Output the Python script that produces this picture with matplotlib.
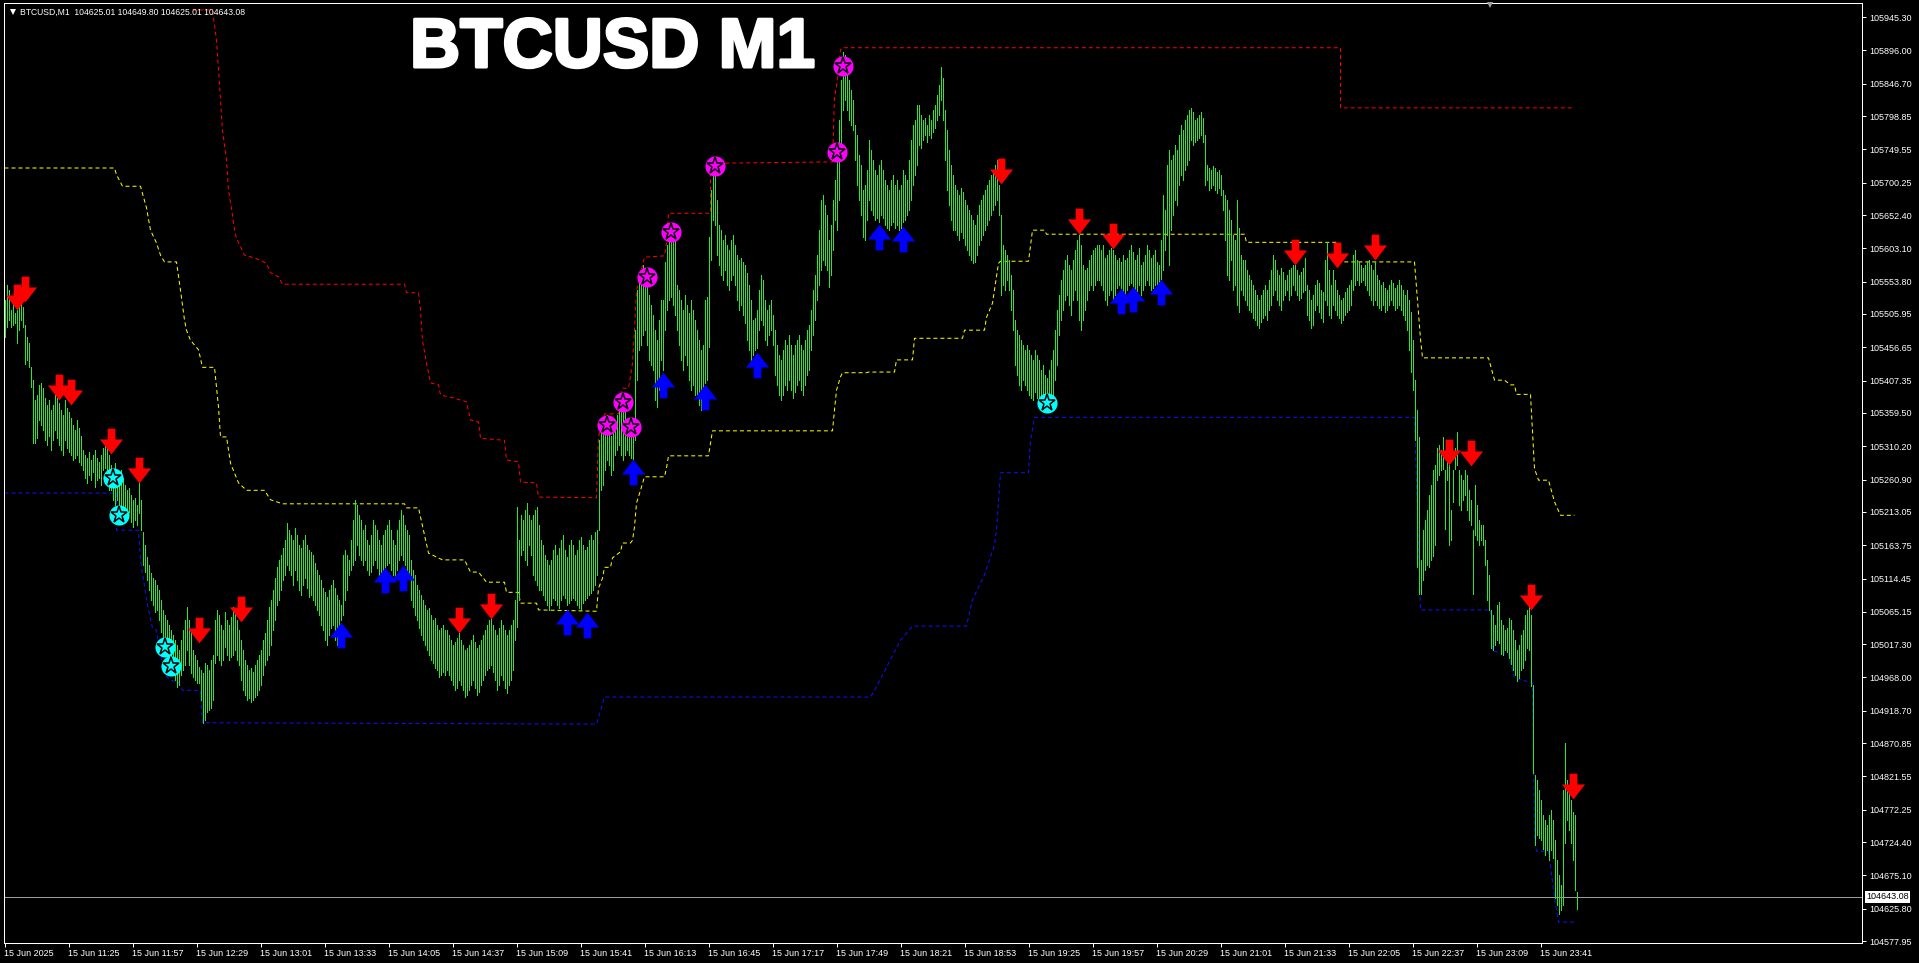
import numpy as np
import matplotlib
matplotlib.use("Agg")
import matplotlib.pyplot as plt
from matplotlib.path import Path
from matplotlib.lines import Line2D
import matplotlib.transforms as mtrans
import matplotlib.patheffects as pe

plt.rcParams['font.family'] = ['Liberation Sans', 'DejaVu Sans']

# ---------------- data ----------------
symbol = "BTCUSD,M1"
title = "BTCUSD M1"
last_open, last_high, last_low, last_close = 104625.01, 104649.80, 104625.01, 104643.08

xtick_labels = ["15 Jun 2025", "15 Jun 11:25", "15 Jun 11:57", "15 Jun 12:29", "15 Jun 13:01",
                "15 Jun 13:33", "15 Jun 14:05", "15 Jun 14:37", "15 Jun 15:09", "15 Jun 15:41",
                "15 Jun 16:13", "15 Jun 16:45", "15 Jun 17:17", "15 Jun 17:49", "15 Jun 18:21",
                "15 Jun 18:53", "15 Jun 19:25", "15 Jun 19:57", "15 Jun 20:29", "15 Jun 21:01",
                "15 Jun 21:33", "15 Jun 22:05", "15 Jun 22:37", "15 Jun 23:09", "15 Jun 23:41"]
xtick_bars = [0, 32, 64, 96, 128, 160, 192, 224, 256, 288, 320, 352, 384, 416, 448,
              480, 512, 544, 576, 608, 640, 672, 704, 736, 768]

ytick_values = [105945.30, 105896.00, 105846.70, 105798.85, 105749.55, 105700.25, 105652.40,
                105603.10, 105553.80, 105505.95, 105456.65, 105407.35, 105359.50, 105310.20,
                105260.90, 105213.05, 105163.75, 105114.45, 105065.15, 105017.30, 104968.00,
                104918.70, 104870.85, 104821.55, 104772.25, 104724.40, 104675.10, 104625.80,
                104577.95]

high = [
 105527,105549,105541,105512,105519,105507,105522,105541,105527,105516,105490,105472,105463,105427,105408,
 105379,105386,105401,105404,105396,105382,105371,105379,105364,105371,105386,105382,105374,105364,105357,105379,105367,105361,105352,105342,105334,105349,105337,105326,
 105305,105297,105293,105302,105290,105297,105305,105293,105287,105297,105308,105312,105315,105297,
 105283,105275,105285,105268,105260,105275,105263,105253,105246,105248,105238,105231,105234,105223,105257,105231,
 105183,105164,105146,105134,105122,105115,105112,105105,105097,105083,105068,
 105061,105053,105046,105038,105031,105023,105016,105009,105023,105038,105053,
 105072,105053,105038,105009,105001,104994,104984,104979,104975,104989,104987,104979,104994,105001,
 105053,105068,105061,105046,105038,105065,105053,105046,105057,105072,105065,105053,105038,105023,
 105009,104994,104987,104979,104982,104976,104987,104994,105001,105009,105023,
 105034,105053,105072,105083,105097,105115,105131,105142,105149,105160,105171,
 105197,105186,105179,105171,105189,105179,105164,105160,105171,105179,105164,105157,105154,105149,
 105137,105127,105120,105112,105100,105094,105087,105097,105105,105112,105100,105090,105083,105075,
 105149,105157,105149,105142,105171,105201,105231,
 105223,105208,105201,105186,105194,105171,105164,105179,105201,105194,105186,105171,105164,105179,105186,105194,105201,105186,105171,105164,105186,105201,105216,105208,105194,105186,105179,
 105142,105127,105120,105105,105097,105090,105083,105075,105068,105071,105061,105053,105056,105046,105038,105041,105046,105038,
 105038,105031,105023,105016,105020,105026,105034,105023,105016,105009,105012,105016,105023,105031,105020,105012,105016,105023,
 105031,105038,105046,105053,105056,105046,105038,105031,105041,105053,105046,105038,105031,105038,105046,105053,
 105083,105220,105171,
 105208,105201,105216,105226,105208,105201,105208,105216,105220,105194,
 105171,105164,105149,105142,105134,105142,105157,105164,105149,105160,105171,105179,105157,105146,105164,105171,105164,105149,105157,105171,105176,105164,105157,105161,105171,105179,105171,105183,105186,
 105319,
 105342,105334,105349,105357,105342,105326,105334,105349,
 105357,105371,105386,105379,105364,105349,105342,105334,
 105349,105482,105541,105564,105571,105578,105571,
 105549,105534,105519,105504,105482,105467,105497,105527,
 105527,105583,105608,105623,105638,105633,105615,
 105549,105541,105527,105512,105534,105519,105507,105527,105512,105497,
 105482,105467,105453,105460,105527,
 105531,105620,105689,105726,
 105719,105675,105638,105630,105615,105623,105608,105601,105615,105623,105608,105593,105586,105589,105583,105578,
 105567,105549,105527,105497,105500,105512,105541,105564,105556,105527,105512,105519,105527,105504,105482,
 105460,105445,105438,105453,105467,105460,105475,105460,105445,105460,105467,105475,105460,105453,105467,105482,
 105490,105512,105541,105564,105593,105630,105675,105682,105667,105652,105615,105638,105675,105704,
 105749,105793,105852,105894,
 105889,105874,105852,105837,105823,
 105786,105771,105741,105726,105689,105697,105719,
 105763,105749,105734,105719,105712,105726,105734,105719,105704,105697,105689,105704,105712,105697,105704,105689,105697,105719,105712,105704,
 105734,105763,105786,105793,105815,
 105815,105800,105793,105796,105786,105800,105793,105808,105815,105830,105845,105871,105855,
 105808,105778,105749,105726,105712,
 105697,105689,105682,105692,105686,105675,105667,105660,105652,105645,105638,105652,105667,105675,105682,105689,
 105697,105704,105712,105719,105726,105734,
 105697,105652,105608,105601,105593,105586,105564,105541,
 105497,105482,105475,105467,105460,105453,105460,105453,105445,105438,105453,105445,105438,
 105423,105430,105416,105411,105423,105438,105453,
 105482,105512,105534,105556,105571,105586,105593,
 105578,105571,105586,105601,105615,105623,105608,105578,105571,105574,105586,105593,105601,105604,105608,105608,
 105601,105608,105589,105593,105601,105604,105601,105593,105586,105589,105583,105593,105586,
 105589,105601,105608,105598,105586,105593,105604,105578,105583,105593,105608,105601,105589,105593,105601,105583,105578,
 105615,105682,105660,105726,105749,105734,
 105741,105756,105749,105771,105786,105778,105793,105800,105808,
 105811,105805,105793,105796,105800,105805,105796,
 105771,105726,105722,105719,105725,105722,105716,105719,105712,
 105689,105682,105675,105660,105645,
 105623,105615,105675,105633,105593,105586,
 105586,105571,105564,105556,105549,105541,105534,105527,105534,105541,105549,105541,105556,105571,
 105593,105586,105571,105564,105574,105568,105556,105564,105571,105574,105578,105578,105571,105564,105568,105574,105589,
 105549,105541,105527,105534,105549,105556,105552,105541,105538,
 105586,105612,105571,105549,
 105571,105556,105541,105534,105527,105530,105538,105544,105549,105556,
 105593,105601,105586,105583,105578,105574,105578,105583,105586,105578,105571,
 105583,105564,105556,105549,105553,105544,105541,105549,105556,105552,105544,105549,105556,105549,105541,105534,
 105541,105527,105509,
 105467,105408,105364,105324,
 105142,105186,105201,105216,105238,105253,105275,105282,
 105308,105312,105305,105324,105275,105312,105282,105216,105275,105308,105331,
 105275,105268,105260,105275,105268,105245,105231,105186,
 105253,105223,105201,105194,105194,105171,105142,105120,
 105068,105061,105046,105075,105080,105053,105046,105038,105041,105056,105053,105038,105023,105009,105016,105031,105038,105061,105068,
 105086,105061,104957,
 104824,104816,104801,104787,104764,104757,104750,104764,104772,104757,
 104727,104698,104676,104661,
 104801,104871,
 104816,104801,104787,104769,104764,
 104649.80]

low = [
 105472,105487,105497,105487,105490,105493,105463,105482,105497,105487,105432,105438,105427,105398,105315,
 105315,105322,105349,105342,105334,105319,105312,105326,105305,105319,105334,105322,105312,105305,105297,105319,105308,105302,105297,105290,105293,105297,105287,105283,
 105275,105263,105256,105268,105260,105272,105250,105260,105263,105253,105275,105278,105268,105246,
 105246,105231,105223,105231,105216,105220,105208,105204,105201,105213,105198,105191,105201,105194,105211,105186,
 105134,105124,105112,105097,105083,105075,105065,105068,105053,105035,105023,
 105009,104994,104987,104979,104972,104964,104954,104957,104972,104979,104987,
 105009,104987,104975,104969,104964,104960,104960,104935,104901,104905,104917,104920,104923,104935,
 104989,105001,104994,104987,104994,105013,105001,104994,104998,105001,105009,104994,104987,104964,
 104949,104942,104935,104938,104932,104935,104939,104942,104949,104957,104972,
 104987,104994,105001,105016,105038,105053,105075,105083,105097,105112,105120,
 105134,105127,105120,105105,105127,105112,105097,105090,105105,105115,105100,105087,105090,105083,
 105075,105068,105061,105046,105038,105023,105016,105031,105041,105046,105023,105016,105038,105053,
 105061,105083,105097,105120,105127,105134,105142,
 105164,105149,105142,105134,105142,105127,105120,105124,105134,105142,105130,105120,105112,105115,105127,105134,105137,105127,105120,105115,105127,105142,105149,105142,105134,105127,105120,
 105083,105072,105061,105053,105041,105031,105023,105016,105009,105001,104994,104989,104982,104979,104969,104972,104976,104972,
 104979,104972,104964,104957,104949,104952,104964,104957,104949,104939,104942,104949,104957,104964,104952,104942,104946,104957,
 104964,104972,104979,104982,104987,104976,104964,104949,104957,104972,104964,104952,104945,104957,104964,104979,
 105023,105043,105083,
 105149,105157,105142,105134,105164,105149,105120,105112,105105,105097,
 105097,105090,105083,105075,105068,105075,105086,105083,105075,105071,105083,105090,105086,105075,105078,105083,105086,105083,105075,105071,105068,105078,105083,105086,105090,105093,105097,105105,105120,
 105186,
 105245,105253,105275,105290,105283,105268,105275,105297,
 105305,105312,105297,105290,105297,105305,105297,105293,
 105290,105319,105408,105453,105460,105475,105482,
 105460,105438,105430,105423,105379,105368,105393,105438,
 105423,105482,105512,105527,105531,105519,105504,
 105482,105460,105438,105423,105445,105430,105408,105393,105401,105386,
 105386,105371,105364,105379,105404,
 105408,105457,105586,105645,
 105638,105593,105578,105564,105556,105571,105549,105541,105556,105564,105549,105527,105512,105519,105504,105492,
 105467,105453,105438,105445,105453,105456,105482,105497,105490,105467,105460,105475,105482,105460,105416,
 105401,105386,105379,105386,105401,105393,105408,105393,105382,105390,105401,105408,105393,105386,105401,105416,
 105423,105453,105475,105497,105527,105549,105571,105586,105578,105571,105546,105564,105601,105645,
 105630,105675,105734,105808,
 105823,105808,105793,105786,105778,
 105734,105697,105675,105652,105620,105615,105645,
 105675,105660,105652,105645,105648,105642,105652,105648,105638,105633,105630,105638,105642,105633,105638,105630,105633,105642,105645,105652,
 105660,105675,105697,105712,105726,
 105756,105752,105763,105771,105760,105771,105766,105775,105781,105793,105800,105823,105793,
 105734,105689,105667,105645,105630,
 105630,105623,105615,105627,105618,105608,105601,105593,105586,105581,105583,105593,105608,105615,105623,105630,
 105638,105645,105652,105660,105667,105675,
 105652,105534,105549,105541,105556,105541,105512,105482,
 105430,105416,105401,105393,105408,105401,105393,105386,105382,105379,105390,105382,105376,
 105379,105376,105371,105367,105371,105379,105386,
 105408,105430,105475,105497,105512,105527,105534,
 105519,105504,105527,105541,105527,105497,105482,105497,105512,105527,105541,105549,105541,105549,105556,105556,
 105549,105541,105527,105519,105534,105541,105527,105534,105544,105549,105541,105534,105527,
 105541,105549,105552,105544,105534,105538,105549,105534,105541,105549,105556,105549,105541,105544,105549,105541,105534,
 105556,105571,105601,105623,105578,105630,
 105652,105675,105667,105697,105712,105704,105719,105726,105734,
 105763,105756,105760,105763,105766,105771,105760,
 105697,105704,105689,105692,105697,105689,105685,105692,105682,
 105660,105615,105564,105556,105586,
 105541,105549,105519,105509,105541,105534,
 105527,105519,105512,105509,105500,105497,105490,105485,105494,105500,105504,105497,105512,105519,
 105534,105541,105527,105519,105512,105527,105534,105541,105527,105534,105549,105541,105534,105527,105530,105538,105541,
 105504,105497,105485,105490,105512,105519,105509,105500,105494,
 105527,105519,105504,105500,
 105519,105512,105504,105500,105493,105497,105504,105509,105512,105519,
 105541,105549,105556,105549,105553,105556,105549,105541,105534,105527,105519,
 105527,105519,105515,105512,105519,105509,105512,105519,105527,105519,105512,105515,105519,105512,105504,105497,
 105482,105453,105420,
 105393,105319,105131,105091,
 105091,105112,105127,105134,105131,105142,105148,105164,
 105260,105268,105275,105277,105188,105260,105164,105171,105228,105277,105282,
 105223,105216,105231,105238,105216,105201,105194,105091,
 105179,105171,105164,105171,105164,105134,105083,105068,
 105012,105009,105016,105023,105019,105003,105001,105009,105006,104997,104988,104979,104972,104963,104967,104979,104982,104994,105012,
 105009,104955,104827,
 104720,104735,104730,104727,104714,104705,104713,104698,104713,104701,
 104642,104631,104618,104624,
 104631,104723,
 104757,104742,104723,104698,104653,
 104625.01]

# band lines: (bar index, price) vertices
yellow_bar = [0,55,56,59,68,71,73,76,78,80,86,88,90,91,93,97,99,105,107,108,111,113,117,121,130,133,139,200,201,207,
              212,219,230,233,237,241,250,251,257,258,266,267,296,297,299,300,303,304,308,309,313,314,315,316,318,320,330,331,332,352,
              354,414,415,416,418,419,431,432,445,446,454,455,479,480,490,491,494,497,498,512,514,520,521,620,621,666,668,705,708,709,
              742,745,750,753,755,756,763,765,767,772,775,778,785]
yellow_price = [105722,105722,105712,105695,105695,105663,105630,105611,105593,105583,105583,105541,105497,105482,105467,105453,105427,105427,105368,105324,
                105324,105285,105256,105245,105245,105231,105225,105225,105219,105219,105152,105142,105142,105124,105124,105109,105109,105094,105094,105078,
                105078,105068,105066,105100,105115,105131,105131,105145,105154,105167,105167,105171,105191,105226,105245,105265,105265,105278,105296,105296,
                105333,105333,105364,105393,105413,105419,105419,105420,105420,105438,105438,105470,105470,105482,105482,105501,105522,105581,105584,105584,
                105630,105630,105624,105624,105612,105612,105583,105583,105469,105441,105441,105408,105408,105401,105401,105387,105387,105277,105260,105260,
                105228,105208,105208]
red_bar = [94,104,106,107,108,109,111,112,114,115,116,120,125,131,133,137,139,200,201,207,
           208,209,211,213,217,218,224,231,233,237,238,250,251,257,258,266,267,296,297,300,
           307,309,312,314,315,316,320,330,331,332,353,353,414,415,416,418,419,668,668,785]
red_price = [105956,105956,105911,105867,105823,105778,105734,105689,105652,105630,105618,105593,105589,105581,105567,105561,105550,105550,105538,105537,
             105512,105467,105433,105404,105401,105386,105382,105376,105349,105346,105322,105319,105290,105287,105257,105256,105235,105234,105324,105358,
             105358,105396,105396,105433,105482,105541,105590,105592,105611,105655,105655,105729,105731,105827,105842,105897,105900,105900,105811,105811]
blue_bar = [0,56,56,67,68,71,74,76,80,83,87,89,98,99,296,300,433,435,441,448,
            454,481,484,490,495,496,498,512,513,515,705,708,743,744,752,755,764,765,766,772,775,777,785]
blue_price = [105241,105241,105186,105186,105142,105083,105041,105038,104972,104964,104961,104949,104949,104901,104899,104939,104939,104949,104983,105023,
              105044,105044,105083,105120,105164,105186,105271,105271,105319,105353,105353,105068,105068,105007,105003,104967,104960,104730,104711,104711,
              104642,104606,104606]

# signal markers
sell_bar = [6,10,27,33,53,67,97,118,227,243,498,537,554,645,666,685,722,733,763,784]
sell_price = [105531,105543,105398,105391,105318,105275,105038,105069,105053,105074,
              105718,105644,105621,105598,105593,105605,105302,105300,105087,104807]
buy_bar = [168,190,199,281,291,314,329,350,376,437,449,558,564,578]
buy_price = [105031,105112,105115,105050,105046,105272,105401,105383,105430,105620,105617,105525,105528,105538]
mag_bar = [301,309,313,321,333,355,416,419]
mag_price = [105342,105376,105339,105561,105627,105725,105746,105873]
cyan_bar = [54,57,80,83,521]
cyan_price = [105263,105208,105013,104985,105374]

# ---------------- drawing ----------------
W, H = 1919, 963
fig = plt.figure(figsize=(W / 100, H / 100), dpi=100, facecolor='black')
L, R, T, B = 3.5, 1862, 3, 943
ax = fig.add_axes([L / W, 1 - B / H, (R - L) / W, (B - T) / H], facecolor='black')
ax.set_xlim(-0.5, 928.75)
ax.set_ylim(104575.0, 105966.2)

n = min(len(high), len(low))
idx = np.arange(n)
hi = np.array(high[:n], dtype=float)
lo = np.array(low[:n], dtype=float)

# current price line
ax.axhline(last_close, color='#9a9aa0', lw=0.72, zorder=1)

# band lines
for bx, by, col in [(yellow_bar, yellow_price, '#FFFF00'),
                    (red_bar, red_price, '#FF0000'),
                    (blue_bar, blue_price, '#1010FF')]:
    ax.plot(bx, by, color=col, lw=0.72, dashes=(4, 3), zorder=2)

# price bars (1 px wide each, 2 px apart)
ax.vlines(idx, lo, hi, colors='#2EE62E', linewidth=0.6, antialiased=False, zorder=3)

# arrow markers
dv = [(-0.15, 0.5), (0.15, 0.5), (0.15, 0.08), (0.45, 0.08), (0.0, -0.5), (-0.45, 0.08), (-0.15, 0.08), (-0.15, 0.5)]
codes = [Path.MOVETO] + [Path.LINETO] * 6 + [Path.CLOSEPOLY]
down_arrow = Path(dv, codes)
up_arrow = Path([(x, -y) for x, y in dv], codes)
ax.plot(sell_bar, sell_price, ls='none', marker=down_arrow, ms=18.5, color='#FF0000', mew=0, zorder=4)
ax.plot(buy_bar, buy_price, ls='none', marker=up_arrow, ms=18.5, color='#0000FF', mew=0, zorder=4)

# star-in-circle markers
for bx, by, col in [(mag_bar, mag_price, '#FF00FF'), (cyan_bar, cyan_price, '#00FFFF')]:
    ax.plot(bx, by, ls='none', marker='o', ms=14.5, color=col, mew=0, zorder=5)
    ax.plot(bx, by, ls='none', marker='*', ms=12.5, mfc=col, mec='black', mew=1.1, zorder=6)

# axes styling
for s in ax.spines.values():
    s.set_color('white')
    s.set_linewidth(0.72)
ax.yaxis.tick_right()
ax.set_yticks(ytick_values)
ax.set_yticklabels([f"{v:.2f}" for v in ytick_values])
ax.tick_params(axis='y', which='both', right=True, left=False, labelright=True, labelleft=False,
               length=3, width=0.72, color='white', labelcolor='white', labelsize=6.5, pad=2)
ax.set_xticks(xtick_bars)
ax.set_xticklabels(xtick_labels, ha='left')
ax.tick_params(axis='x', length=3, width=0.72, color='white', labelcolor='white', labelsize=6.5, pad=1.5)

# current price label
trans = mtrans.blended_transform_factory(fig.transFigure, ax.transData)
ax.text(1866 / W, last_close, f"{last_close:.2f}", transform=trans, color='black', fontsize=6.5,
        va='center', ha='left', bbox=dict(facecolor='white', edgecolor='none', pad=1.0), zorder=10,
        clip_on=False)

# header
fig.add_artist(Line2D([12.5 / W], [1 - 12 / H], marker='v', ms=4.5, color='white', mew=0,
                      transform=fig.transFigure))
fig.text(20 / W, 1 - 12 / H,
         f"{symbol}  {last_open:.2f} {last_high:.2f} {last_low:.2f} {last_close:.2f}",
         color='white', fontsize=6.2, va='center', ha='left')
fig.add_artist(Line2D([1490 / W], [1 - 5 / H], marker='v', ms=5, color='#a0a0a0', mew=0,
                      transform=fig.transFigure))

# big title
fig.text(410 / W, 1 - 67 / H, title, color='white', fontsize=50, fontweight='bold',
         va='baseline', ha='left',
         path_effects=[pe.withStroke(linewidth=2.2, foreground='white')])

fig.savefig("out.png", dpi=100, facecolor='black')
